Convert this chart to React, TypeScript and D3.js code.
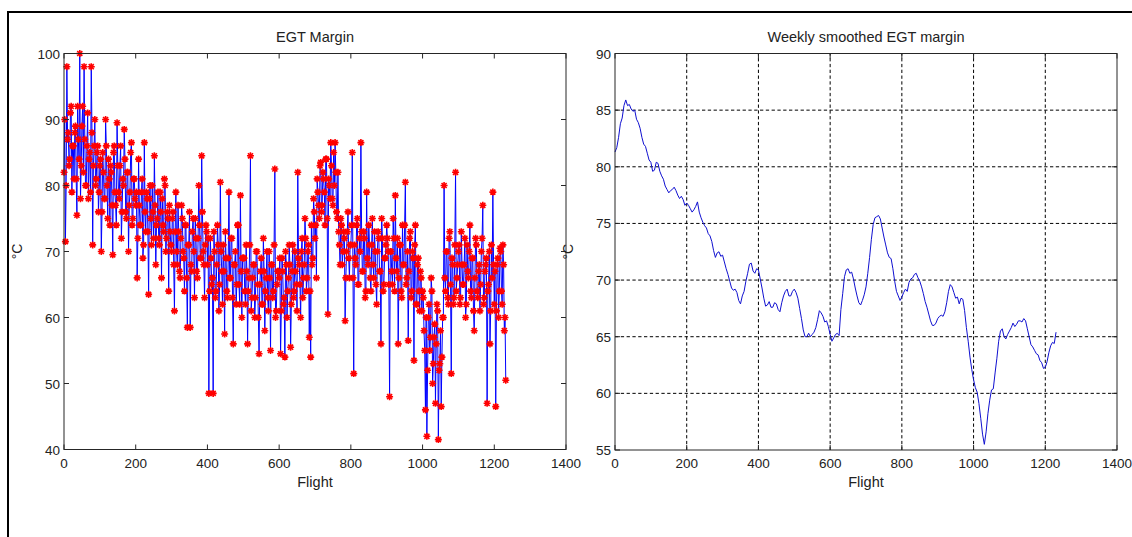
import React from "react";
import * as d3 from "d3";

// raw EGT margin, one reading every FLIGHT_STEP flights
const FLIGHT_STEP = 2;
const egtMargin = [
  82, 90, 71.5, 80, 98, 87, 88, 83, 84, 91, 92, 79, 86, 86, 81, 88, 89, 81, 75.5, 92, 87, 84, 100, 78, 83,
  89, 92, 82, 98, 87, 80, 80, 86, 91, 78, 84, 85, 79, 98, 88, 71, 83, 86, 90, 80, 81, 85, 86, 76, 79,
  83, 84, 70, 76, 85, 82, 78, 78, 90, 86, 80, 75, 84, 81, 74, 83, 82, 77, 69.5, 85, 86, 79, 77, 74, 89.5,
  83, 79, 78, 83, 86, 72, 76, 81, 80, 88.5, 84, 76, 75, 82, 82, 70, 77, 79, 85, 86.5, 74, 75, 81, 81, 78,
  77, 79, 66, 72, 84, 77, 74, 74, 79, 81, 69, 71, 86.5, 76, 73, 79, 78, 73, 63.5, 78, 80, 75, 71, 80, 76,
  72, 84.5, 77, 68, 74, 75, 79, 72, 71, 79, 76, 66, 78, 74, 73, 81, 80, 70, 72, 76, 75, 64, 77, 73, 71,
  70, 75, 76, 68, 61, 73, 79, 70, 68, 77, 73, 67, 66, 72, 77, 75, 70, 69, 64, 74, 74, 66, 58.5, 71, 71,
  76, 58.5, 68, 67, 73, 75, 70, 63, 75, 72, 67, 66, 72, 80, 74, 69, 69, 84.5, 76, 70, 68, 63, 71, 74, 73,
  68, 72, 48.5, 64, 72, 69, 65, 66, 48.5, 73, 70, 63, 64, 68, 74, 71, 61, 65, 80.5, 70, 67, 62, 71, 67, 57.5,
  73, 69, 64, 63, 69, 79, 66, 66, 72, 72, 63, 56, 68, 68, 70, 62, 65, 74, 74, 65, 62, 78.5, 67, 60, 69,
  69, 69, 64, 62, 71, 67, 56, 64, 66, 71, 84.5, 61, 63, 66, 68, 68, 60, 63, 70, 70, 65, 60, 54.5, 65, 67,
  69, 62, 62, 72, 67, 58, 64, 66, 70, 63, 61, 70, 66, 55, 68, 68, 63, 64, 71, 82.5, 60, 61, 65, 67, 67,
  66, 69, 54.5, 61, 69, 67, 62, 63, 54, 70, 68, 60, 64, 66, 71, 68, 55.5, 62, 67, 71, 63, 64, 70, 67, 65,
  61, 82, 69, 68, 65, 60, 70, 72, 63, 66, 68, 75, 72, 64, 66, 70, 71, 57, 64, 54, 74, 68, 69, 78, 76,
  72, 74, 66, 81, 79, 77, 75, 83, 83.5, 76, 77, 82, 81, 79, 74, 84, 84, 75, 60.5, 81, 80, 78, 86.5, 83, 78,
  77, 85, 80, 86.5, 82, 76, 75, 82, 73, 71, 68, 75, 74, 68, 70, 73, 72, 59.5, 66, 70, 73, 76, 69, 66, 71,
  71, 74, 85, 66, 51.5, 71, 69, 68, 74, 75, 65, 65, 72, 70, 86.5, 73, 67, 67, 73, 72, 63, 64, 79, 69, 68,
  74, 71, 66, 64, 71, 75, 68, 66, 73, 70, 65, 62, 70, 73, 72, 67, 67, 56, 75, 72, 64, 65, 69, 69, 71,
  74, 72, 70, 65, 48, 70, 70, 67, 65, 75, 72, 64, 78.5, 69, 67, 72, 56, 66, 71, 71, 64, 63, 74, 68, 68,
  74, 80.5, 65, 66, 70, 56.5, 67, 72, 73, 63, 64, 70, 69, 53.5, 71, 74, 62, 62, 68, 69, 64, 61, 67, 66, 61,
  64, 63, 58, 55, 46, 60, 42, 52, 60, 62, 55, 57, 66, 64, 50, 53, 57, 59, 47, 56, 62, 61, 41.5, 52, 53,
  58, 46.5, 54, 60, 60, 80, 66, 64, 70, 70, 63, 62, 72, 73, 65, 51.5, 69, 68, 62, 63, 71, 82, 64, 66, 68,
  70, 71, 62, 63, 73, 68, 65, 65, 68, 72, 60, 62, 71, 67, 66, 70, 74, 64, 63, 69, 69, 61, 58, 66, 72,
  71, 64, 63, 67, 68, 61, 65, 70, 72, 77, 62, 63, 67, 68, 69, 47, 64, 65, 70, 56, 61, 71, 66, 79, 68,
  62, 67, 46.5, 61, 68, 69, 60, 64, 70.5, 70, 64, 62, 71, 68, 58, 60, 50.5,
];

// weekly smoothed margin, every SMOOTH_STEP flights
const SMOOTH_STEP = 5;
const smoothedMargin = [
  81.3, 81.7, 82.6, 83.8, 84.3, 85.4, 85.9, 85.4, 85.5, 85.1, 84.9, 85.0, 84.2, 83.9, 83.4, 82.6, 82.0, 81.8, 81.2, 80.6,
  80.4, 79.6, 79.7, 80.4, 80.3, 79.6, 79.2, 78.9, 78.3, 78.0, 77.7, 77.9, 78.0, 78.2, 77.9, 77.5, 77.2, 77.4, 77.1, 76.6,
  76.8, 76.6, 76.3, 76.0, 76.2, 76.5, 76.9, 76.0, 75.5, 75.1, 74.8, 74.6, 74.1, 73.9, 73.4, 72.6, 72.0, 72.4, 72.5, 72.1,
  72.2, 71.6, 71.0, 70.5, 69.9, 69.3, 69.1, 69.2, 68.9, 68.2, 67.9, 68.6, 69.0, 69.9, 70.6, 71.4, 71.5, 70.8, 70.6, 71.0,
  70.9, 70.1, 69.3, 68.4, 67.7, 67.8, 68.1, 67.6, 67.6, 68.0, 67.9, 67.4, 67.2, 68.0, 68.6, 69.0, 69.2, 68.6, 68.6, 69.0,
  69.2, 68.9, 68.4, 67.5, 66.6, 65.6, 65.0, 65.0, 65.3, 65.0, 65.2, 65.4, 65.8, 66.5, 67.3, 67.1, 66.8, 66.3, 66.4, 65.9,
  65.2, 64.6, 64.9, 65.2, 65.3, 65.1, 67.4, 68.8, 70.3, 70.9, 71.0, 70.6, 70.7, 70.1, 69.3, 68.6, 68.0, 67.8, 68.2, 68.7,
  69.4, 70.6, 72.0, 73.6, 74.9, 75.5, 75.6, 75.7, 75.4, 74.6, 73.8, 73.1, 72.4, 72.0, 71.9, 71.0, 69.9, 69.0, 68.6, 68.2,
  68.5, 68.9, 69.2, 69.0, 69.8, 70.1, 70.2, 70.5, 70.6, 70.2, 69.9, 69.4, 68.8, 68.1, 67.6, 67.0, 66.4, 66.0, 66.0, 66.2,
  66.6, 66.8, 66.9, 66.8, 67.2, 68.0, 69.0, 69.6, 69.4, 68.9, 68.4, 68.5, 67.9, 68.4, 68.3, 67.3, 65.8, 64.6, 63.2, 62.1,
  61.2, 60.5, 60.1, 59.1, 57.8, 56.4, 55.5, 56.6, 58.2, 59.4, 60.3, 60.4, 61.8, 63.1, 64.6, 65.5, 65.7, 65.0, 64.8, 65.2,
  65.5, 65.8, 66.2, 65.9, 66.1, 66.4, 66.4, 66.3, 66.6, 66.4, 65.7, 65.0, 64.3, 64.1, 63.8, 63.5, 63.4, 62.9, 62.7, 62.2,
  62.3, 62.8, 63.6, 64.2, 64.5, 64.4, 65.4,
];

const xTicks = [0, 200, 400, 600, 800, 1000, 1200, 1400];
const leftYTicks = [40, 50, 60, 70, 80, 90, 100];
const rightYTicks = [55, 60, 65, 70, 75, 80, 85, 90];

const FONT = "'Liberation Sans', Arial, sans-serif";
const AXIS = "#262626";
const TICK = 5;

type AxesProps = {
  x: d3.ScaleLinear<number, number>;
  y: d3.ScaleLinear<number, number>;
  yTicks: number[];
  grid?: boolean;
  title: string;
  children?: React.ReactNode;
};

const Axes = ({ x, y, yTicks, grid, title, children }: AxesProps) => {
  const [x0, x1] = x.range();
  const [y0, y1] = y.range();
  const cx = (x0 + x1) / 2;
  return (
    <g>
      {grid &&
        xTicks.slice(1, -1).map((t) => (
          <line key={"gx" + t} x1={x(t)} x2={x(t)} y1={y0} y2={y1} stroke="#000" strokeDasharray="3.3 2.5" />
        ))}
      {grid &&
        yTicks.slice(1, -1).map((t) => (
          <line key={"gy" + t} x1={x0} x2={x1} y1={y(t)} y2={y(t)} stroke="#000" strokeDasharray="3.3 2.5" />
        ))}
      {children}
      <rect x={x0} y={y1} width={x1 - x0} height={y0 - y1} fill="none" stroke={AXIS} />
      {xTicks.map((t) => (
        <g key={"xt" + t}>
          <line x1={x(t)} x2={x(t)} y1={y0} y2={y0 - TICK} stroke={AXIS} />
          <line x1={x(t)} x2={x(t)} y1={y1} y2={y1 + TICK} stroke={AXIS} />
          <text x={x(t)} y={y0 + 18} textAnchor="middle" fontSize={13.5} fontFamily={FONT} fill="#222">
            {t}
          </text>
        </g>
      ))}
      {yTicks.map((t) => (
        <g key={"yt" + t}>
          <line x1={x0} x2={x0 + TICK} y1={y(t)} y2={y(t)} stroke={AXIS} />
          <line x1={x1} x2={x1 - TICK} y1={y(t)} y2={y(t)} stroke={AXIS} />
          <text x={x0 - 4} y={y(t) + 5} textAnchor="end" fontSize={13.5} fontFamily={FONT} fill="#222">
            {t}
          </text>
        </g>
      ))}
      <text x={cx} y={41.5} textAnchor="middle" fontSize={14.5} fontFamily={FONT} fill="#222">
        {title}
      </text>
      <text x={cx} y={487} textAnchor="middle" fontSize={14.5} fontFamily={FONT} fill="#222">
        Flight
      </text>
      <text
        transform={`translate(${x0 - 42},${(y0 + y1) / 2}) rotate(-90)`}
        textAnchor="middle"
        fontSize={14}
        fontFamily={FONT}
        fill="#222"
      >
        °C
      </text>
    </g>
  );
};

const star = (r: number) => {
  const d = r * 0.72;
  return `M${-r},0H${r}M0,${-r}V${r}M${-d},${-d}L${d},${d}M${-d},${d}L${d},${-d}`;
};

export default function App() {
  const xL = d3.scaleLinear().domain([0, 1400]).range([64, 566]);
  const yL = d3.scaleLinear().domain([40, 100]).range([449.5, 53.5]);
  const xR = d3.scaleLinear().domain([0, 1400]).range([615, 1117]);
  const yR = d3.scaleLinear().domain([55, 90]).range([450, 53.5]);

  const rawPts = egtMargin.map((v, i) => [i * FLIGHT_STEP, v] as [number, number]);
  const smoothPts = smoothedMargin.map((v, i) => [i * SMOOTH_STEP, v] as [number, number]);

  const rawLine = d3.line<[number, number]>().x((d) => xL(d[0])).y((d) => yL(d[1]));
  const smoothLine = d3.line<[number, number]>().x((d) => xR(d[0])).y((d) => yR(d[1]));
  const marker = star(3.5);

  return (
    <svg width={1132} height={537} style={{ position: "absolute", left: 0, top: 0, background: "#fff" }}>
      <rect width={1132} height={537} fill="#fff" />
      <path d="M8,537V12H1132" fill="none" stroke="#000" strokeWidth={2} />
      <Axes x={xL} y={yL} yTicks={leftYTicks} title="EGT Margin">
        <path d={rawLine(rawPts) || ""} fill="none" stroke="#0000ff" strokeWidth={1} />
        {rawPts.map((d, i) => (
          <path
            key={i}
            d={marker}
            transform={`translate(${xL(d[0])},${yL(d[1])})`}
            stroke="#ff0000"
            strokeWidth={1.6}
            fill="none"
          />
        ))}
      </Axes>
      <Axes x={xR} y={yR} yTicks={rightYTicks} grid title="Weekly smoothed EGT margin">
        <path d={smoothLine(smoothPts) || ""} fill="none" stroke="#1010d0" strokeWidth={1} />
      </Axes>
    </svg>
  );
}
